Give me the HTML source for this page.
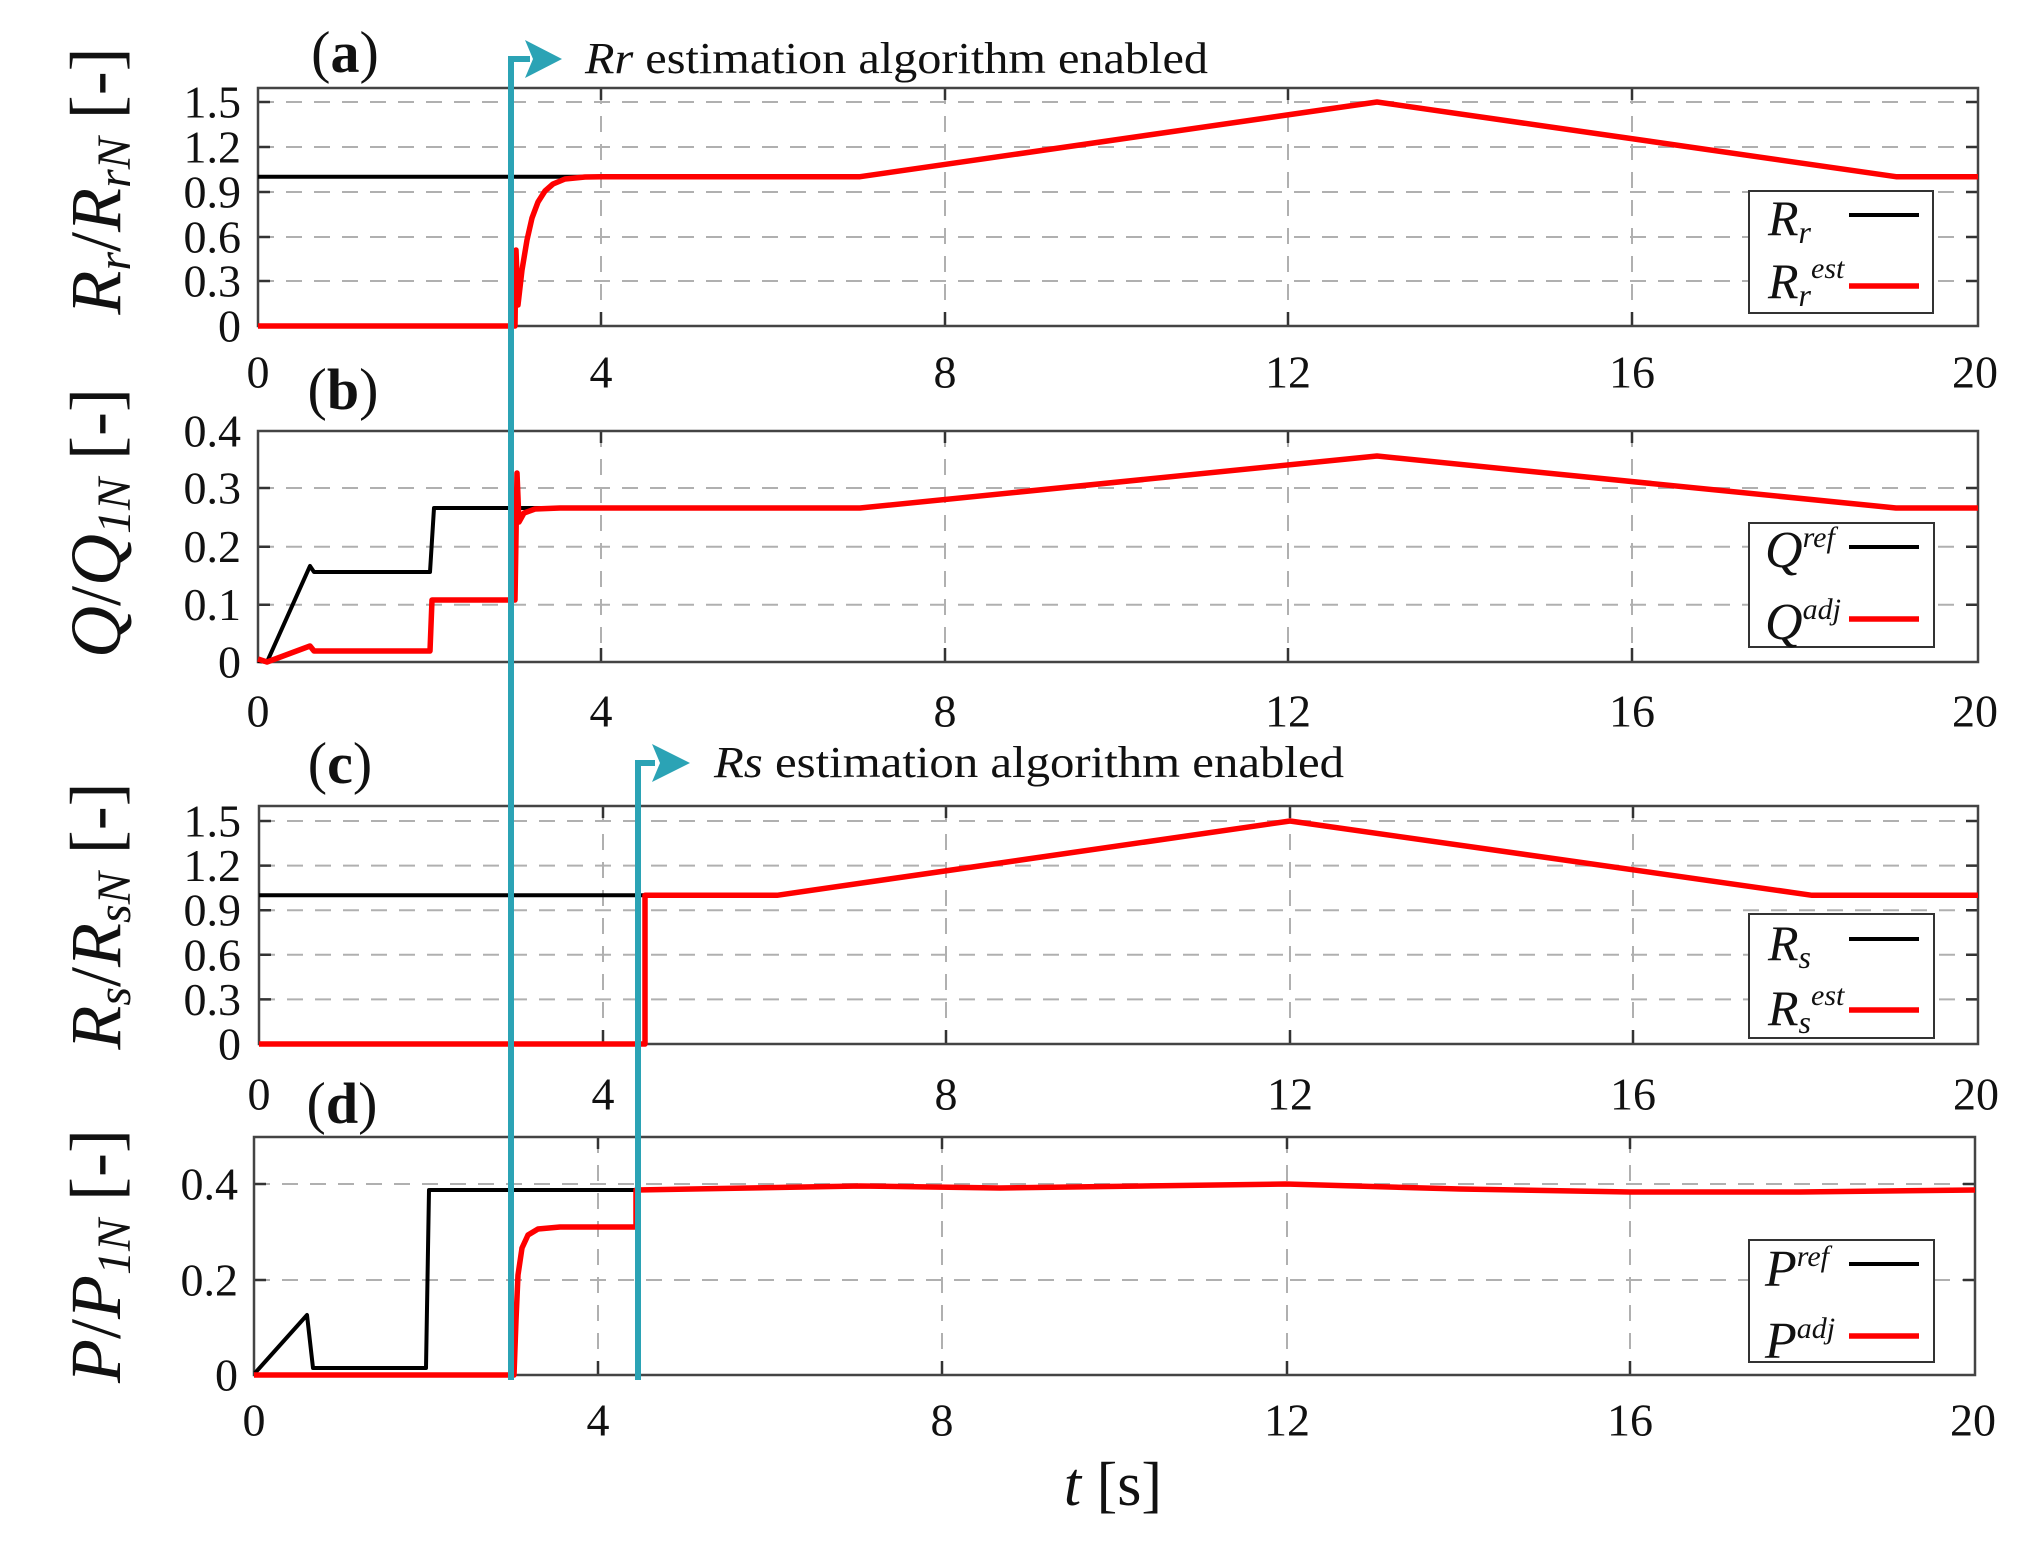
<!DOCTYPE html>
<html><head><meta charset="utf-8"><style>
html,body{margin:0;padding:0;background:#fff;}
svg{display:block;}
text{font-family:"Liberation Serif",serif;fill:#111;}
.tk{font-size:46px;}
.g{stroke:#b0b0b0;stroke-width:2;stroke-dasharray:16 12;fill:none;}
.bx{stroke:#444;stroke-width:2.5;fill:none;}
.t{stroke:#333;stroke-width:2.5;}
.k{stroke:#000;stroke-width:4;fill:none;stroke-linejoin:round;}
.r{stroke:#ff0000;stroke-width:5.5;fill:none;stroke-linejoin:round;}
.lg{stroke:#333;stroke-width:2;fill:#fff;}
.it{font-style:italic;}
</style></head><body>
<svg width="2036" height="1544" viewBox="0 0 2036 1544" xmlns="http://www.w3.org/2000/svg">

<!-- ===== Panel a ===== -->
<g>
<path class="g" d="M258,102H1978M258,147H1978M258,192H1978M258,237H1978M258,281H1978"/>
<path class="g" d="M601,88V326M945,88V326M1288,88V326M1632,88V326"/>
<path class="t" d="M258,102h12M258,147h12M258,192h12M258,237h12M258,281h12M1978,102h-12M1978,147h-12M1978,192h-12M1978,237h-12M1978,281h-12M601,88v12M945,88v12M1288,88v12M1632,88v12M601,326v-14M945,326v-14M1288,326v-14M1632,326v-14"/>
<rect class="bx" x="258" y="88" width="1720" height="238"/>
<path class="k" d="M258,176.7H860L1377,102L1896,176.7H1978"/>
<path class="r" d="M258,326H515L516,250L518,305L522,270L527,240L532,218L538,202L545,191L553,184L565,179L585,177L601,176.7H860L1377,102L1896,176.7H1978"/>
<g class="tk" text-anchor="end" dominant-baseline="central">
<text x="241" y="102">1.5</text><text x="241" y="147">1.2</text><text x="241" y="192">0.9</text><text x="241" y="237">0.6</text><text x="241" y="281">0.3</text><text x="241" y="326">0</text></g>
<g class="tk" text-anchor="middle" dominant-baseline="central">
<text x="258" y="372">0</text><text x="601" y="372">4</text><text x="945" y="372">8</text><text x="1288" y="372">12</text><text x="1632" y="372">16</text><text x="1975" y="372">20</text></g>
<rect class="lg" x="1749" y="191" width="184" height="122"/>
<path class="k" d="M1849,215H1919"/><path class="r" d="M1849,286H1919"/>
<text x="1768" y="235" font-size="50" class="it">R<tspan font-size="32" dy="8">r</tspan></text>
<text x="1768" y="298" font-size="50" class="it">R<tspan font-size="32" dy="8">r</tspan><tspan font-size="30" dy="-28">est</tspan></text>
<text x="345" y="52" font-size="58" text-anchor="middle" dominant-baseline="central">(<tspan font-weight="bold">a</tspan>)</text>
<text transform="translate(120,181) rotate(-90)" font-size="72" text-anchor="middle"><tspan class="it">R</tspan><tspan class="it" font-size="48" dy="10">r</tspan><tspan dy="-10">/</tspan><tspan class="it">R</tspan><tspan class="it" font-size="48" dy="10">rN</tspan><tspan dy="-10"> [-]</tspan></text>
</g>

<!-- ===== Panel b ===== -->
<g>
<path class="g" d="M258,488H1978M258,546.7H1978M258,604.7H1978"/>
<path class="g" d="M601,431V662M945,431V662M1288,431V662M1632,431V662"/>
<path class="t" d="M258,488h12M258,546.7h12M258,604.7h12M1978,488h-12M1978,546.7h-12M1978,604.7h-12M601,431v12M945,431v12M1288,431v12M1632,431v12M601,662v-14M945,662v-14M1288,662v-14M1632,662v-14"/>
<rect class="bx" x="258" y="431" width="1720" height="231"/>
<path class="k" d="M258,661L267,662L310,566L314,572H430L434,508H860L1377,456L1896,508H1978"/>
<path class="r" d="M258,659L267,662L310,646L314,651H430L432,600H515L517,473L519,522L524,513L535,509L560,508H860L1377,456L1896,508H1978"/>
<g class="tk" text-anchor="end" dominant-baseline="central">
<text x="241" y="431">0.4</text><text x="241" y="488">0.3</text><text x="241" y="546.7">0.2</text><text x="241" y="604.7">0.1</text><text x="241" y="662">0</text></g>
<g class="tk" text-anchor="middle" dominant-baseline="central">
<text x="258" y="711">0</text><text x="601" y="711">4</text><text x="945" y="711">8</text><text x="1288" y="711">12</text><text x="1632" y="711">16</text><text x="1975" y="711">20</text></g>
<rect class="lg" x="1749" y="523" width="185" height="124"/>
<path class="k" d="M1849,547H1919"/><path class="r" d="M1849,619H1919"/>
<text x="1765" y="567" font-size="52" class="it">Q<tspan font-size="30" dy="-20">ref</tspan></text>
<text x="1765" y="639" font-size="52" class="it">Q<tspan font-size="30" dy="-20">adj</tspan></text>
<text x="343" y="389" font-size="58" text-anchor="middle" dominant-baseline="central">(<tspan font-weight="bold">b</tspan>)</text>
<text transform="translate(120,523) rotate(-90)" font-size="72" text-anchor="middle"><tspan class="it">Q</tspan><tspan>/</tspan><tspan class="it">Q</tspan><tspan class="it" font-size="48" dy="10">1N</tspan><tspan dy="-10"> [-]</tspan></text>
</g>

<!-- ===== Panel c ===== -->
<g>
<path class="g" d="M259,821H1978M259,865.6H1978M259,910.2H1978M259,954.8H1978M259,999.4H1978"/>
<path class="g" d="M603,806V1044M946,806V1044M1290,806V1044M1633,806V1044"/>
<path class="t" d="M259,821h12M259,865.6h12M259,910.2h12M259,954.8h12M259,999.4h12M1978,821h-12M1978,865.6h-12M1978,910.2h-12M1978,954.8h-12M1978,999.4h-12M603,806v12M946,806v12M1290,806v12M1633,806v12M603,1044v-14M946,1044v-14M1290,1044v-14M1633,1044v-14"/>
<rect class="bx" x="259" y="806" width="1719" height="238"/>
<path class="k" d="M259,895.3H777L1290,821L1812,895.3H1978"/>
<path class="r" d="M259,1044H645V895.3H777L1290,821L1812,895.3H1978"/>
<g class="tk" text-anchor="end" dominant-baseline="central">
<text x="241" y="821">1.5</text><text x="241" y="865.6">1.2</text><text x="241" y="910.2">0.9</text><text x="241" y="954.8">0.6</text><text x="241" y="999.4">0.3</text><text x="241" y="1044">0</text></g>
<g class="tk" text-anchor="middle" dominant-baseline="central">
<text x="259" y="1094">0</text><text x="603" y="1094">4</text><text x="946" y="1094">8</text><text x="1290" y="1094">12</text><text x="1633" y="1094">16</text><text x="1976" y="1094">20</text></g>
<rect class="lg" x="1749" y="914" width="185" height="124"/>
<path class="k" d="M1849,939H1919"/><path class="r" d="M1849,1010H1919"/>
<text x="1768" y="960" font-size="50" class="it">R<tspan font-size="32" dy="8">s</tspan></text>
<text x="1768" y="1025" font-size="50" class="it">R<tspan font-size="32" dy="8">s</tspan><tspan font-size="30" dy="-28">est</tspan></text>
<text x="340" y="763" font-size="58" text-anchor="middle" dominant-baseline="central">(<tspan font-weight="bold">c</tspan>)</text>
<text transform="translate(120,916) rotate(-90)" font-size="72" text-anchor="middle"><tspan class="it">R</tspan><tspan class="it" font-size="48" dy="10">s</tspan><tspan dy="-10">/</tspan><tspan class="it">R</tspan><tspan class="it" font-size="48" dy="10">sN</tspan><tspan dy="-10"> [-]</tspan></text>
</g>

<!-- ===== Panel d ===== -->
<g>
<path class="g" d="M254,1184H1975M254,1280H1975"/>
<path class="g" d="M598,1137V1375M942,1137V1375M1287,1137V1375M1630,1137V1375"/>
<path class="t" d="M254,1184h12M254,1280h12M1975,1184h-12M1975,1280h-12M598,1137v12M942,1137v12M1287,1137v12M1630,1137v12M598,1375v-14M942,1375v-14M1287,1375v-14M1630,1375v-14"/>
<rect class="bx" x="254" y="1137" width="1721" height="238"/>
<path class="k" d="M255,1373L307,1315L313,1368H426L429,1190H637L640,1190L860,1186L1000,1188L1286,1184L1460,1189L1630,1192L1800,1192L1975,1190"/>
<path class="r" d="M254,1375H514L516,1320L518,1275L522,1248L528,1235L538,1229L560,1227H636V1190L860,1186L1000,1188L1286,1184L1460,1189L1630,1192L1800,1192L1975,1190"/>
<g class="tk" text-anchor="end" dominant-baseline="central">
<text x="238" y="1184">0.4</text><text x="238" y="1280">0.2</text><text x="238" y="1375">0</text></g>
<g class="tk" text-anchor="middle" dominant-baseline="central">
<text x="254" y="1420">0</text><text x="598" y="1420">4</text><text x="942" y="1420">8</text><text x="1287" y="1420">12</text><text x="1630" y="1420">16</text><text x="1973" y="1420">20</text></g>
<rect class="lg" x="1749" y="1240" width="185" height="122"/>
<path class="k" d="M1849,1264H1919"/><path class="r" d="M1849,1336H1919"/>
<text x="1765" y="1286" font-size="52" class="it">P<tspan font-size="30" dy="-20">ref</tspan></text>
<text x="1765" y="1358" font-size="52" class="it">P<tspan font-size="30" dy="-20">adj</tspan></text>
<text x="342" y="1103" font-size="58" text-anchor="middle" dominant-baseline="central">(<tspan font-weight="bold">d</tspan>)</text>
<text transform="translate(120,1256) rotate(-90)" font-size="72" text-anchor="middle"><tspan class="it">P</tspan><tspan>/</tspan><tspan class="it">P</tspan><tspan class="it" font-size="48" dy="10">1N</tspan><tspan dy="-10"> [-]</tspan></text>
<text x="1113" y="1505" font-size="62" text-anchor="middle"><tspan class="it">t</tspan> [s]</text>
</g>

<!-- ===== Annotations ===== -->
<g stroke="#2ba3b5" stroke-width="6" fill="none">
<path d="M511,1380V59H530"/>
<path d="M638,1380V763H655"/>
</g>
<polygon points="525,40 562,59 525,78 533,59" fill="#2ba3b5"/>
<polygon points="652,744 690,763 652,782 660,763" fill="#2ba3b5"/>
<text x="585" y="73" font-size="44" textLength="623" lengthAdjust="spacingAndGlyphs"><tspan class="it">Rr</tspan> estimation algorithm enabled</text>
<text x="714" y="777" font-size="44" textLength="630" lengthAdjust="spacingAndGlyphs"><tspan class="it">Rs</tspan> estimation algorithm enabled</text>
</svg>
</body></html>
